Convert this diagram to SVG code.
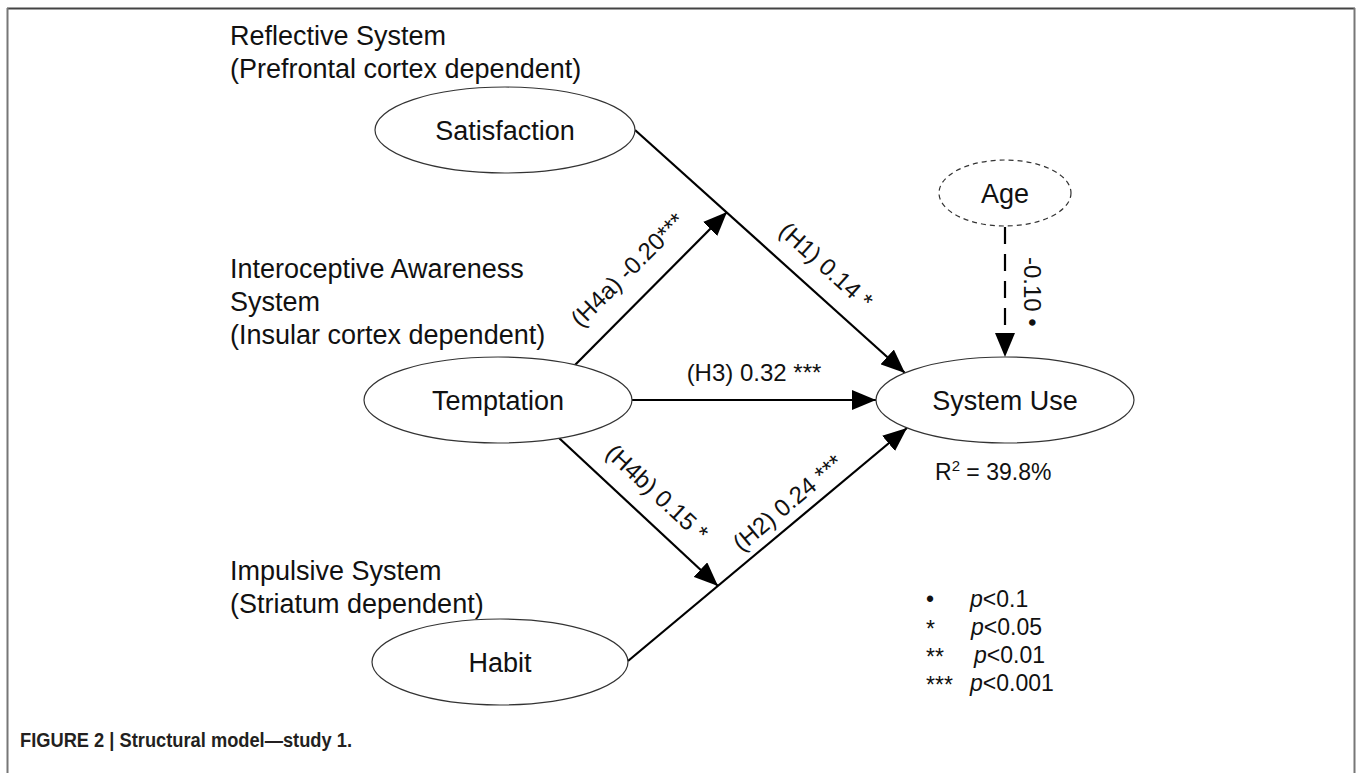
<svg xmlns="http://www.w3.org/2000/svg" width="1357" height="773" viewBox="0 0 1357 773">
<defs>
<style>
.t{font-family:"Liberation Sans",Arial,sans-serif;fill:#111;}
.lbl{font-size:27px;}
.node{font-size:27px;text-anchor:middle;}
.edge{font-size:24px;text-anchor:middle;}
.leg{font-size:23px;}
.el{fill:#fff;stroke:#333;stroke-width:1.2;}
.con{stroke:#000;stroke-width:2.2;fill:none;marker-end:url(#ah);}
</style>
<marker id="ah" markerUnits="userSpaceOnUse" markerWidth="24" markerHeight="20" viewBox="0 0 24 20" refX="24" refY="10" orient="auto">
<path d="M0,0 L24,10 L0,20 z" fill="#000"/>
</marker>
</defs>
<rect width="1357" height="773" fill="#fff"/>
<g id="frame">
<line x1="7" y1="8.5" x2="1355" y2="8.5" stroke="#444" stroke-width="2"/>
<line x1="7.5" y1="8" x2="7.5" y2="773" stroke="#777" stroke-width="2"/>
<line x1="1354.5" y1="8" x2="1354.5" y2="773" stroke="#777" stroke-width="2"/>
</g>
<g id="group-labels" class="t lbl">
<text x="230" y="45">Reflective System</text>
<text x="230" y="78">(Prefrontal cortex dependent)</text>
<text x="230" y="278">Interoceptive Awareness</text>
<text x="230" y="311">System</text>
<text x="230" y="344">(Insular cortex dependent)</text>
<text x="230" y="580">Impulsive System</text>
<text x="230" y="613">(Striatum dependent)</text>
</g>
<g id="connectors">
<line class="con" x1="635" y1="130" x2="905" y2="373"/>
<line class="con" x1="575" y1="365" x2="727" y2="212"/>
<line class="con" x1="632" y1="400" x2="876" y2="400"/>
<line class="con" x1="559" y1="438" x2="718" y2="586"/>
<line class="con" x1="628" y1="661" x2="907" y2="428"/>
<line class="con" x1="1005" y1="227" x2="1005" y2="357" stroke-dasharray="17 10"/>
</g>
<g id="edge-labels" class="t edge">
<text transform="translate(826,266) rotate(42)" y="8">(H1)  0.14 *</text>
<text transform="translate(628,270) rotate(-45)" y="8">(H4a) -0.20***</text>
<text x="754" y="381">(H3) 0.32 ***</text>
<text transform="translate(657,493) rotate(43)" y="8">(H4b) 0.15 *</text>
<text transform="translate(788,503) rotate(-40)" y="8">(H2)  0.24 ***</text>
<text transform="translate(1024,257) rotate(90)" style="text-anchor:start">-0.10 •</text>
</g>
<g id="satisfaction">
<ellipse class="el" cx="505" cy="130" rx="130" ry="43"/>
<text class="t node" x="505" y="140">Satisfaction</text>
</g>
<g id="temptation">
<ellipse class="el" cx="498" cy="400" rx="134" ry="43"/>
<text class="t node" x="498" y="410">Temptation</text>
</g>
<g id="habit">
<ellipse class="el" cx="500" cy="662" rx="128" ry="43"/>
<text class="t node" x="500" y="672">Habit</text>
</g>
<g id="system-use">
<ellipse class="el" cx="1005" cy="400" rx="129" ry="43"/>
<text class="t node" x="1005" y="410">System Use</text>
</g>
<g id="age">
<ellipse class="el" cx="1005" cy="193" rx="66" ry="33" stroke-dasharray="5 4" stroke="#555"/>
<text class="t node" x="1005" y="203">Age</text>
</g>
<g id="r2" class="t leg">
<text x="935" y="480">R<tspan dy="-9" font-size="15">2</tspan><tspan dy="9"> = 39.8%</tspan></text>
</g>
<g id="legend" class="t leg">
<text x="926" y="607">•</text><text x="970" y="607"><tspan font-style="italic">p</tspan>&lt;0.1</text>
<text x="926" y="637">*</text><text x="971" y="635"><tspan font-style="italic">p</tspan>&lt;0.05</text>
<text x="926" y="665">**</text><text x="974" y="663"><tspan font-style="italic">p</tspan>&lt;0.01</text>
<text x="926" y="693">***</text><text x="970" y="691"><tspan font-style="italic">p</tspan>&lt;0.001</text>
</g>
<g id="caption">
<text x="20" y="747" textLength="332" lengthAdjust="spacingAndGlyphs" style="font-family:'Liberation Sans',Arial,sans-serif;font-weight:bold;font-size:20px;fill:#231f20">FIGURE 2 | Structural model—study 1.</text>
</g>
</svg>
